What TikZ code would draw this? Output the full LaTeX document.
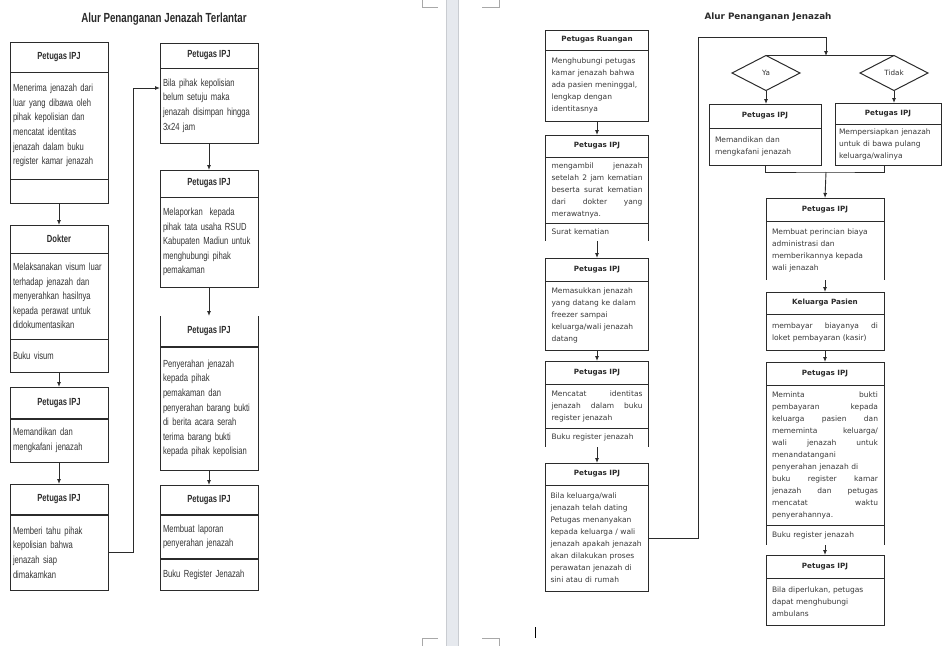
\documentclass[tikz,border=0pt]{standalone}
\usepackage{fontspec}
\usetikzlibrary{positioning,shapes.geometric,arrows.meta}
\newfontfamily\narrowsf[FakeStretch=0.74]{Liberation Sans}
\newfontfamily\wordsf{DejaVu Sans}
\newcommand\jline[1]{{\spaceskip=0.33em plus 1fil\makebox[\hsize][s]{#1}}}
\hyphenpenalty=10000
\exhyphenpenalty=10000
\definecolor{pagegap}{HTML}{E6E9EE}
\definecolor{gapedge}{HTML}{C9CCD1}
\definecolor{cropmark}{HTML}{A8A8A8}
\definecolor{ink}{HTML}{2B2B2B}
\tikzset{
  lhead/.style={draw=ink, line width=1pt, outer sep=0pt, minimum width=98pt, minimum height=#1, inner sep=0pt, anchor=north, text=ink, font=\narrowsf\bfseries\fontsize{10.3}{12}\selectfont},
  lbody/.style={draw=ink, line width=1pt, outer sep=0pt, text width=92pt, inner xsep=3pt, inner ysep=2pt, minimum height=#1, anchor=north, align=left, text=black!80, font=\narrowsf\fontsize{10.3}{14.6}\selectfont},
  rhead/.style n args={2}{draw=ink, line width=1pt, outer sep=0pt, minimum width=#2, minimum height=#1, inner sep=0pt, anchor=north, text=ink, font=\wordsf\bfseries\fontsize{7.2}{9}\selectfont},
  rbody/.style n args={3}{draw=ink, line width=1pt, outer sep=0pt, text width=#3, inner xsep=#2, inner ysep=2pt, minimum height=#1, anchor=north, align=left, text=black!78, font=\wordsf\fontsize{7.5}{12}\selectfont},
  choice/.style={diamond, draw=ink, line width=1pt, outer sep=0pt, minimum width=68pt, minimum height=35pt, inner sep=0pt, text=black!80, font=\wordsf\fontsize{7.2}{9}\selectfont},
  flow/.style={draw=ink, line width=0.9pt},
  heavysep/.style={draw=ink, line width=2pt},
  open/.style={draw=none}
}
\begin{document}
\begin{tikzpicture}[x=1pt, y=-1pt, >={Latex[length=5pt,width=4pt]}]
\useasboundingbox (0,0) rectangle (943,646);
% gap between the two pages
\fill[pagegap] (446,0) rectangle (458,646);
\draw[gapedge] (446,0) -- (446,646) (458,0) -- (458,646);
\draw[cropmark] (422,0) -- (422,7) -- (438,7) (482,7) -- (499,7) -- (499,0);
\draw[cropmark] (422,646) -- (422,638) -- (438,638) (482,638) -- (499,638) -- (499,646);
\draw[black, line width=0.8pt] (535,627) -- (535,638);

% left page
\node (ltitle) at (164,19) [text=ink, font=\narrowsf\bfseries\fontsize{13.2}{15}\selectfont] {Alur Penanganan Jenazah Terlantar};

\node (l1h) at (59,42) [lhead=30pt] {Petugas IPJ};
\node (l1b) [lbody=107pt, below=0pt of l1h] {Menerima jenazah dari\\ luar yang dibawa oleh\\ pihak kepolisian dan\\ mencatat identitas\\ jenazah dalam buku\\ register kamar jenazah};
\node (l1f) [lbody=24pt, below=0pt of l1b] {};

\node (l2h) at (59,225) [lhead=28pt] {Dokter};
\node (l2b) [lbody=86pt, below=0pt of l2h] {Melaksanakan visum luar\\ terhadap jenazah dan\\ menyerahkan hasilnya\\ kepada perawat untuk\\ didokumentasikan};
\node (l2f) [lbody=33pt, below=0pt of l2b] {Buku visum};

\node (l3h) at (59,387) [lhead=32pt] {Petugas IPJ};
\node (l3b) [lbody=43pt, below=0pt of l3h] {Memandikan dan\\ mengkafani jenazah};
\draw[heavysep] (l3h.south west) -- (l3h.south east);

\node (l4h) at (59,484) [lhead=31pt] {Petugas IPJ};
\node (l4b) [lbody=75pt, below=0pt of l4h] {Memberi tahu pihak\\ kepolisian bahwa\\ jenazah siap\\ dimakamkan};
\draw[heavysep] (l4h.south west) -- (l4h.south east);

\node (lah) at (209,43) [lhead=25pt] {Petugas IPJ};
\node (lab) [lbody=75pt, below=0pt of lah] {Bila pihak kepolisian\\ belum setuju maka\\ jenazah disimpan hingga\\ 3x24 jam};

\node (lbh) at (209,170) [lhead=27pt] {Petugas IPJ};
\node (lbb) [lbody=90pt, below=0pt of lbh] {Melaporkan\ \ kepada\\ pihak tata usaha RSUD\\ Kabupaten Madiun untuk\\ menghubungi pihak\\ pemakaman};

\node (lch) at (209,316) [lhead=31pt, open] {Petugas IPJ};
\draw[ink, line width=1pt] (lch.north west) -- (lch.south west) -- (lch.south east) -- (lch.north east);
\node (lcb) [lbody=123pt, below=0pt of lch] {Penyerahan jenazah\\ kepada pihak\\ pemakaman dan\\ penyerahan barang bukti\\ di berita acara serah\\ terima barang bukti\\ kepada pihak kepolisian};
\draw[heavysep] (lch.south west) -- (lch.south east);

\node (ldh) at (209,485) [lhead=30pt] {Petugas IPJ};
\node (ldb) [lbody=44pt, below=0pt of ldh] {Membuat laporan\\ penyerahan jenazah};
\node (ldf) [lbody=31pt, below=0pt of ldb] {Buku Register Jenazah};
\draw[heavysep] (ldh.south west) -- (ldh.south east) (ldb.south west) -- (ldb.south east);

\draw[flow, ->] (l1f.south) -- (l2h.north);
\draw[flow, ->] (l2f.south) -- (l3h.north);
\draw[flow, ->] (l3b.south) -- (l4h.north);
\coordinate (lturn) at (133,88);
\draw[flow, ->] (l4b.east) -| (lturn) -- (lturn -| lab.west);
\draw[flow, ->] (lab.south) -- (lbh.north);
\draw[flow, ->] (lbb.south) -- (lch.north);
\draw[flow, ->] (lcb.south) -- (ldh.north);

% right page
\node (rtitle) at (768,17) [text=ink, font=\wordsf\bfseries\fontsize{8.8}{10}\selectfont] {Alur Penanganan Jenazah};

\node (r1h) at (597,30) [rhead={20pt}{103pt}] {Petugas Ruangan};
\node (r1b) [rbody={71pt}{6pt}{91pt}, below=0pt of r1h] {Menghubungi petugas\\ kamar jenazah bahwa\\ ada pasien meninggal,\\ lengkap dengan\\ identitasnya};

\node (r2h) at (597,135) [rhead={22pt}{103pt}] {Petugas IPJ};
\node (r2b) [rbody={66pt}{6pt}{91pt}, below=0pt of r2h] {\jline{mengambil jenazah}\\ \jline{setelah 2 jam kematian}\\ \jline{beserta surat kematian}\\ \jline{dari dokter yang}\\ merawatnya.};
\node (r2f) [rbody={18pt}{6pt}{91pt}, below=0pt of r2b, open] {Surat kematian};
\draw[ink, line width=1pt] (r2f.north west) -- (r2f.south west) (r2f.north east) -- (r2f.south east);

\node (r3h) at (597,258) [rhead={23pt}{103pt}] {Petugas IPJ};
\node (r3b) [rbody={69pt}{6pt}{91pt}, below=0pt of r3h] {Memasukkan jenazah\\ yang datang ke dalam\\ freezer sampai\\ keluarga/wali jenazah\\ datang};

\node (r4h) at (597,361) [rhead={23pt}{103pt}] {Petugas IPJ};
\node (r4b) [rbody={44pt}{6pt}{91pt}, below=0pt of r4h] {\jline{Mencatat identitas}\\ \jline{jenazah dalam buku}\\ register jenazah};
\node (r4f) [rbody={19pt}{6pt}{91pt}, below=0pt of r4b, open] {Buku register jenazah};
\draw[ink, line width=1pt] (r4f.north west) -- (r4f.south west) (r4f.north east) -- (r4f.south east);

\node (r5h) at (597,463) [rhead={22pt}{103pt}] {Petugas IPJ};
\node (r5b) [rbody={106pt}{5pt}{93pt}, below=0pt of r5h] {Bila keluarga/wali\\ jenazah telah dating\\ Petugas menanyakan\\ kepada keluarga / wali\\ jenazah apakah jenazah\\ akan dilakukan proses\\ perawatan jenazah di\\ sini atau di rumah};

\draw[flow, ->] (r1b.south) -- (r2h.north);
\draw[flow, ->] (r2f.south) -- (r3h.north);
\draw[flow, ->] (r3b.south) -- (r4h.north);
\draw[flow, ->] (r4f.south) -- (r5h.north);

\node (ya) at (766,73) [choice] {Ya};
\node (tidak) at (894,73) [choice] {Tidak};
\coordinate (rturn) at (698,37);
\coordinate (split) at (826,56);
\draw[flow, ->] (r5b.east) -| (rturn) -| (split);
\draw[flow] (ya.north) -- (tidak.north);

\node (yh) at (765,104) [rhead={24pt}{112pt}] {Petugas IPJ};
\node (yb) [rbody={37pt}{6pt}{100pt}, below=0pt of yh] {Memandikan dan\\ mengkafani jenazah};
\node (th) at (888,103) [rhead={21pt}{106pt}] {Petugas IPJ};
\node (tb) [rbody={41pt}{4pt}{98pt}, below=0pt of th] {Mempersiapkan jenazah\\ untuk di bawa pulang\\ keluarga/walinya};
\draw[flow, ->] (ya.south) -- (ya.south |- yh.north);
\draw[flow, ->] (tidak.south) -- (tidak.south |- th.north);

\coordinate (merge) at (826,172);
\coordinate (tjoin) at (884,165);
\draw[flow] (yb.south) |- (merge) -| (tjoin);

\node (b1h) at (825,198) [rhead={23pt}{118pt}] {Petugas IPJ};
\node (b1b) [rbody={59pt}{6pt}{106pt}, below=0pt of b1h, open] {Membuat perincian biaya\\ administrasi dan\\ memberikannya kepada\\ wali jenazah};
\draw[ink, line width=1pt] (b1b.north west) -- (b1b.south west) (b1b.north east) -- (b1b.south east);

\node (b2h) at (825,292) [rhead={22pt}{118pt}] {Keluarga Pasien};
\node (b2b) [rbody={36pt}{6pt}{106pt}, below=0pt of b2h] {\jline{membayar biayanya di}\\ loket pembayaran (kasir)};

\node (b3h) at (825,362) [rhead={23pt}{118pt}] {Petugas IPJ};
\node (b3b) [rbody={140pt}{6pt}{106pt}, below=0pt of b3h] {\jline{Meminta bukti}\\ \jline{pembayaran kepada}\\ \jline{keluarga pasien dan}\\ \jline{mememinta keluarga/}\\ \jline{wali jenazah untuk}\\ menandatangani\\ penyerahan jenazah di\\ \jline{buku register kamar}\\ \jline{jenazah dan petugas}\\ \jline{mencatat waktu}\\ penyerahannya.};
\node (b3f) [rbody={20pt}{6pt}{106pt}, below=0pt of b3b, open] {Buku register jenazah};
\draw[ink, line width=1pt] (b3f.north west) -- (b3f.south west) (b3f.north east) -- (b3f.south east);

\node (b4h) at (825,555) [rhead={23pt}{118pt}] {Petugas IPJ};
\node (b4b) [rbody={47pt}{6pt}{106pt}, below=0pt of b4h] {Bila diperlukan, petugas\\ dapat menghubungi\\ ambulans};

\draw[flow, ->] (merge) -- (b1h.north);
\draw[flow, ->] (b1b.south) -- (b2h.north);
\draw[flow, ->] (b2b.south) -- (b3h.north);
\draw[flow, ->] (b3f.south) -- (b4h.north);
\end{tikzpicture}
\end{document}
